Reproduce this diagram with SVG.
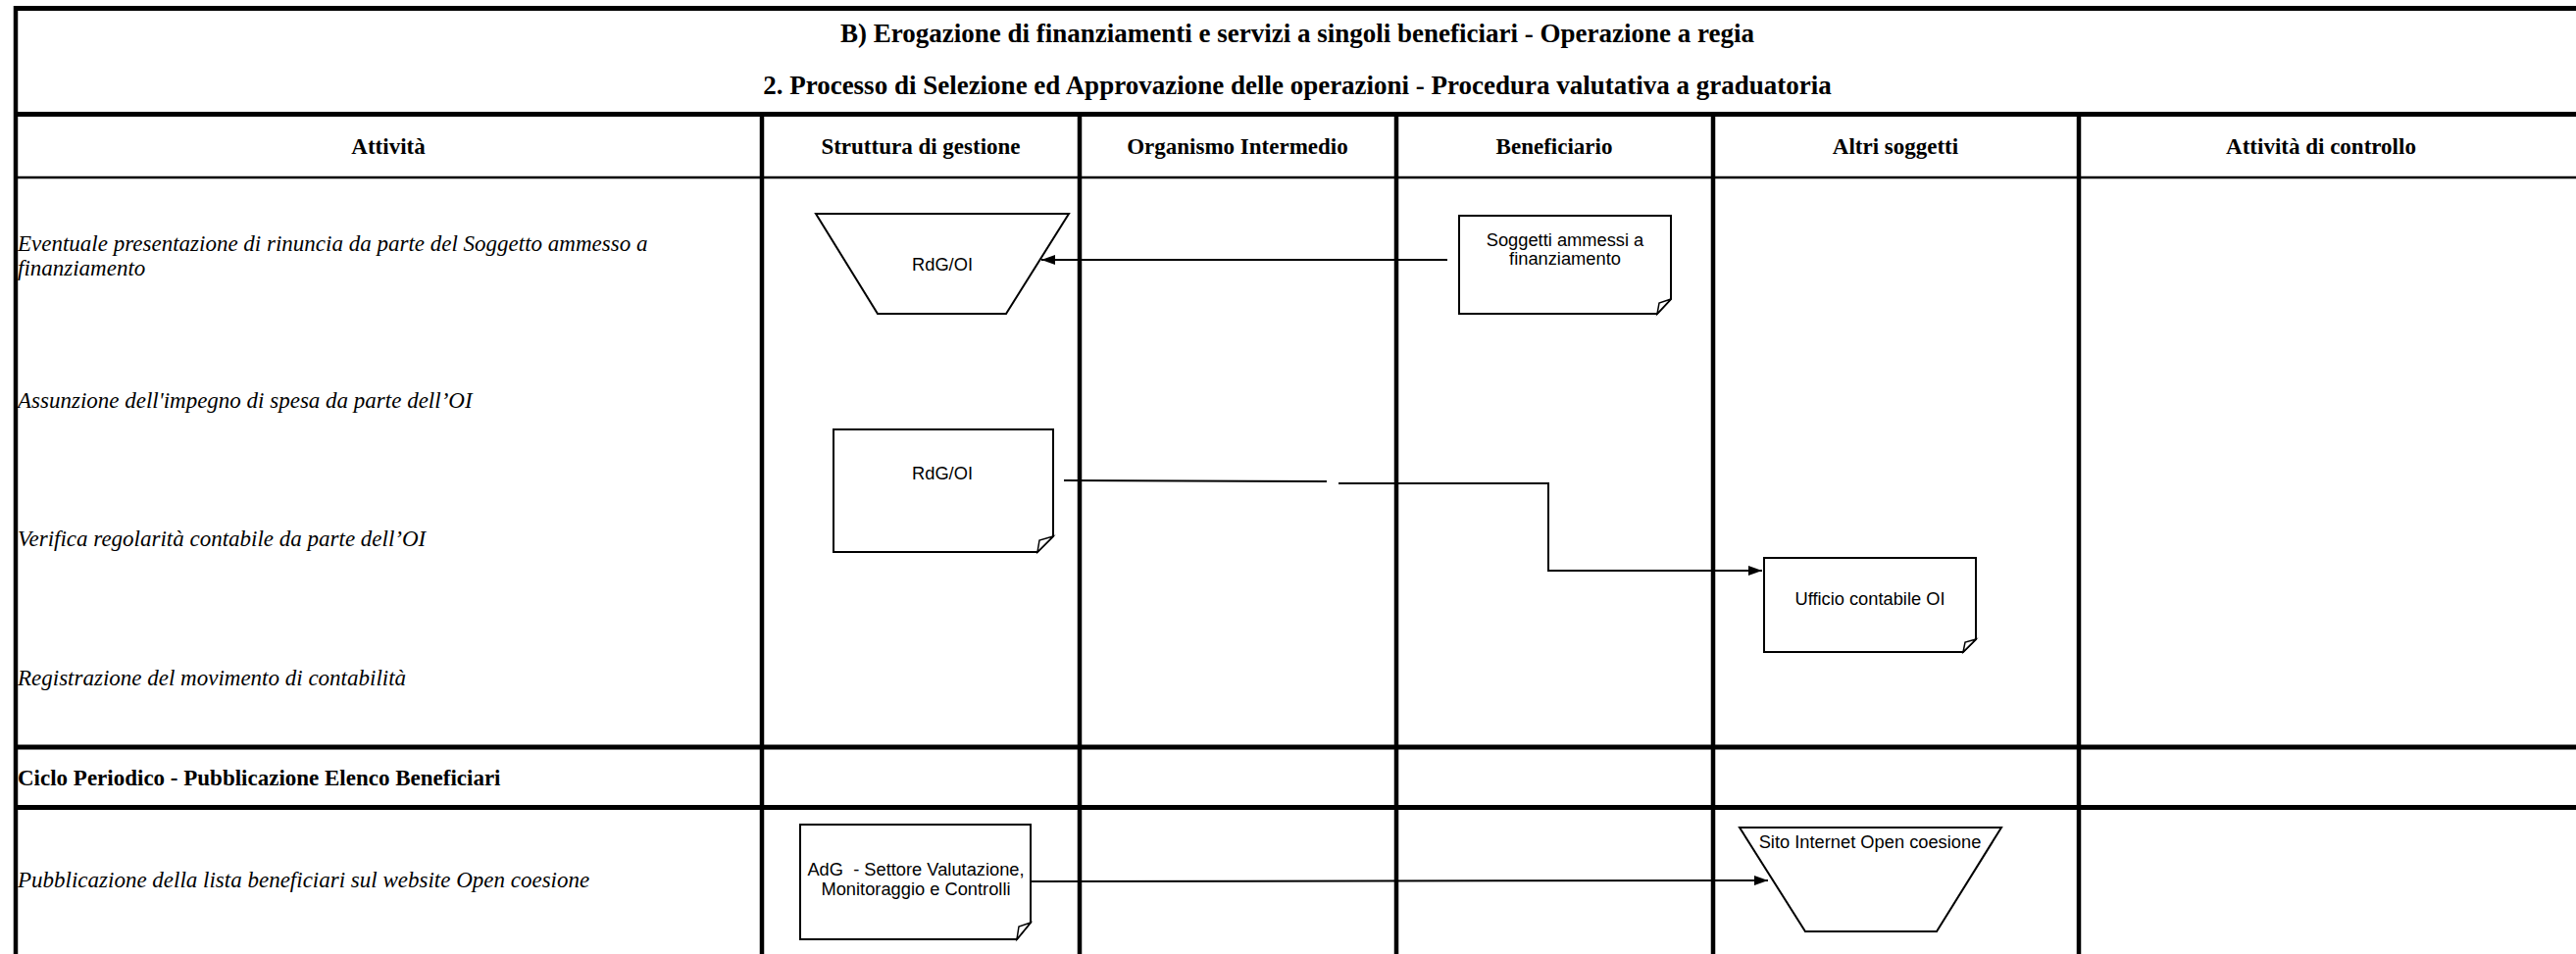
<svg xmlns="http://www.w3.org/2000/svg" width="2627" height="973" viewBox="0 0 2627 973">
<defs>
<marker id="arr" viewBox="0 0 14 10" refX="14" refY="5" markerWidth="14" markerHeight="10" markerUnits="userSpaceOnUse" orient="auto">
<path d="M0,0 L14,5 L0,10 Z" fill="#000"/>
</marker>
<style>
.grid{stroke:#000;fill:none}
.thick{stroke-width:5}
.col{stroke-width:4.5}
.thin{stroke-width:2.5}
.title{font-family:"Liberation Serif","Times New Roman",serif;font-weight:bold;font-size:27px;text-anchor:middle;fill:#000}
.head{font-family:"Liberation Serif","Times New Roman",serif;font-weight:bold;font-size:23px;text-anchor:middle;fill:#000}
.act{font-family:"Liberation Serif","Times New Roman",serif;font-style:italic;font-size:23px;fill:#000}
.sec{font-family:"Liberation Serif","Times New Roman",serif;font-weight:bold;font-size:23px;fill:#000}
.shape{fill:#fff;stroke:#000;stroke-width:2}
.fold{fill:#fff;stroke:#000;stroke-width:1.5}
.lbl{font-family:"Liberation Sans",Arial,sans-serif;font-size:18.3px;text-anchor:middle;fill:#000;white-space:pre}
.conn{fill:none;stroke:#000;stroke-width:2}
</style>
</defs>
<rect width="2627" height="973" fill="#fff"/>
<g id="table">
<line class="grid thick" x1="14" y1="8.5" x2="2627" y2="8.5"/>
<line class="grid thick" x1="14" y1="116.5" x2="2627" y2="116.5"/>
<line class="grid thin" x1="14" y1="181" x2="2627" y2="181"/>
<line class="grid thick" x1="14" y1="762" x2="2627" y2="762"/>
<line class="grid thick" x1="14" y1="823.5" x2="2627" y2="823.5"/>
<line class="grid col" x1="16" y1="6" x2="16" y2="973"/>
<line class="grid col" x1="777" y1="116" x2="777" y2="973"/>
<line class="grid col" x1="1101" y1="116" x2="1101" y2="973"/>
<line class="grid col" x1="1424" y1="116" x2="1424" y2="973"/>
<line class="grid col" x1="1747" y1="116" x2="1747" y2="973"/>
<line class="grid col" x1="2120" y1="116" x2="2120" y2="973"/>
</g>
<g id="titles">
<text class="title" x="1323" y="43">B) Erogazione di finanziamenti e servizi a singoli beneficiari - Operazione a regia</text>
<text class="title" x="1323" y="96">2. Processo di Selezione ed Approvazione delle operazioni - Procedura valutativa a graduatoria</text>
</g>
<g id="headers">
<text class="head" x="396" y="157">Attività</text>
<text class="head" x="939" y="157">Struttura di gestione</text>
<text class="head" x="1262" y="157">Organismo Intermedio</text>
<text class="head" x="1585" y="157">Beneficiario</text>
<text class="head" x="1933" y="157">Altri soggetti</text>
<text class="head" x="2367" y="157">Attività di controllo</text>
</g>
<g id="activities">
<text class="act" x="18" y="256">Eventuale presentazione di rinuncia da parte del Soggetto ammesso a</text>
<text class="act" x="18" y="281">finanziamento</text>
<text class="act" x="18" y="416">Assunzione dell'impegno di spesa da parte dell’OI</text>
<text class="act" x="18" y="557">Verifica regolarità contabile da parte dell’OI</text>
<text class="act" x="18" y="699">Registrazione del movimento di contabilità</text>
<text class="sec" x="18" y="801">Ciclo Periodico - Pubblicazione Elenco Beneficiari</text>
<text class="act" x="18" y="905">Pubblicazione della lista beneficiari sul website Open coesione</text>
</g>
<g id="connectors">
<line class="conn" x1="1476" y1="265" x2="1062" y2="265" marker-end="url(#arr)"/>
<line class="conn" x1="1085" y1="490" x2="1353" y2="491"/>
<polyline class="conn" points="1365,493 1579,493 1579,582 1797,582" marker-end="url(#arr)"/>
<line class="conn" x1="1051" y1="899" x2="1803" y2="898" marker-end="url(#arr)"/>
</g>
<g id="n1">
<polygon class="shape" points="832,218 1090,218 1026,320 895,320"/>
<text class="lbl" x="961" y="276">RdG/OI</text>
</g>
<g id="n2">
<path class="shape" d="M1488,220 H1704 V305 L1690,320 H1488 Z"/>
<path class="fold" d="M1704,305 L1692,309 L1690,320 Z"/>
<text class="lbl" x="1596" y="251">Soggetti ammessi a</text>
<text class="lbl" x="1596" y="270">finanziamento</text>
</g>
<g id="n3">
<path class="shape" d="M850,438 H1074 V547 L1058,563 H850 Z"/>
<path class="fold" d="M1074,547 L1060,551 L1058,563 Z"/>
<text class="lbl" x="961" y="489">RdG/OI</text>
</g>
<g id="n4">
<path class="shape" d="M1799,569 H2015 V652 L2002,665 H1799 Z"/>
<path class="fold" d="M2015,652 L2004,655 L2002,665 Z"/>
<text class="lbl" x="1907" y="617">Ufficio contabile OI</text>
</g>
<g id="n5">
<path class="shape" d="M816,841 H1051 V941 L1037,958 H816 Z"/>
<path class="fold" d="M1051,941 L1039,945 L1037,958 Z"/>
<text class="lbl" x="934" y="893" xml:space="preserve">AdG  - Settore Valutazione,</text>
<text class="lbl" x="934" y="913">Monitoraggio e Controlli</text>
</g>
<g id="n6">
<polygon class="shape" points="1774,844 2041,844 1975,950 1841,950"/>
<text class="lbl" x="1907" y="865">Sito Internet Open coesione</text>
</g>
</svg>
